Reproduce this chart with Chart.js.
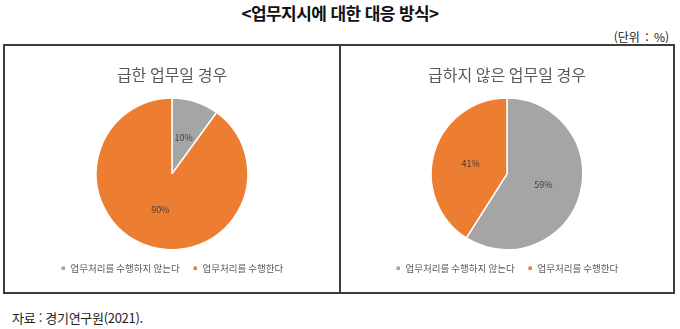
<!DOCTYPE html>
<html lang="ko">
<head>
<meta charset="utf-8">
<script src="https://cdn.jsdelivr.net/npm/chart.js@4"></script>
<style>
  html, body { margin: 0; padding: 0; background: #fff; }
  body { width: 680px; height: 329px; position: relative; overflow: hidden;
         font-family: "Noto Sans CJK KR", "Noto Sans", sans-serif; }
  #title { position: absolute; left: 0; top: 0; width: 680px; text-align: center;
           font-size: 17px; font-weight: bold; line-height: 26px; color: #111; letter-spacing: -0.6px; }
  #unit { position: absolute; right: 11px; top: 28px; font-size: 12px; color: #222; word-spacing: 2px; }
  #box { position: absolute; left: 3px; top: 44px; width: 668px; height: 246px;
         border: 2px solid #3c3c3c; display: flex; }
  .panel { width: 334px; height: 246px; position: relative; }
  .panel + .panel { border-left: 2px solid #3c3c3c; width: 332px; }
  #source { position: absolute; left: 12px; top: 308px; font-size: 13px; color: #222; letter-spacing: -0.3px; }
</style>
</head>
<body>
<div id="title">&lt;업무지시에 대한 대응 방식&gt;</div>
<div id="unit">(단위 : %)</div>
<div id="box">
  <div class="panel"><canvas id="urgentChart"></canvas></div>
  <div class="panel"><canvas id="normalChart"></canvas></div>
</div>
<div id="source">자료 : 경기연구원(2021).</div>
<script>
const categories = ['업무처리를 수행하지 않는다', '업무처리를 수행한다'];
const chartTitles = ['급한 업무일 경우', '급하지 않은 업무일 경우'];
const urgentValues = [10, 90];
const normalValues = [59, 41];
const sliceColors = ['#A5A5A5', '#ED7D31'];

// simple data label plugin, Excel style "10%"
const pctLabels = {
    id: 'pctLabels',
    afterDatasetsDraw(chart) {
        const ctx = chart.ctx;
        const meta = chart.getDatasetMeta(0);
        const data = chart.data.datasets[0].data;
        ctx.save();
        ctx.font = '9px "Noto Sans CJK KR", sans-serif';
        ctx.fillStyle = '#404040';
        ctx.textAlign = 'center';
        ctx.textBaseline = 'middle';
        meta.data.forEach((arc, i) => {
            const p = arc.tooltipPosition();
            ctx.fillText(data[i] + '%', p.x, p.y);
        });
        ctx.restore();
    }
};

function makePie(id, title, values) {
    new Chart(document.getElementById(id), {
        type: 'pie',
        data: {
            labels: categories,
            datasets: [{
                data: values,
                backgroundColor: sliceColors,
                borderColor: '#fff',
                borderWidth: 1.5
            }]
        },
        options: {
            responsive: false,
            animation: false,
            layout: { padding: { top: 0, bottom: 9 } },
            plugins: {
                title: {
                    display: true,
                    text: title,
                    color: '#595959',
                    font: { size: 16, weight: 'normal', family: '"Noto Sans CJK KR", sans-serif' },
                    padding: { top: 19, bottom: 13 }
                },
                legend: {
                    position: 'bottom',
                    labels: {
                        color: '#595959',
                        usePointStyle: true,
                        pointStyle: 'rect',
                        boxWidth: 5,
                        boxHeight: 5,
                        padding: 13,
                        font: { size: 9.5, family: '"Noto Sans CJK KR", sans-serif' }
                    }
                },
                tooltip: { enabled: false }
            }
        },
        plugins: [pctLabels]
    });
}

document.getElementById('urgentChart').width = 334;
document.getElementById('urgentChart').height = 246;
document.getElementById('normalChart').width = 332;
document.getElementById('normalChart').height = 246;
makePie('urgentChart', chartTitles[0], urgentValues);
makePie('normalChart', chartTitles[1], normalValues);
</script>
</body>
</html>
